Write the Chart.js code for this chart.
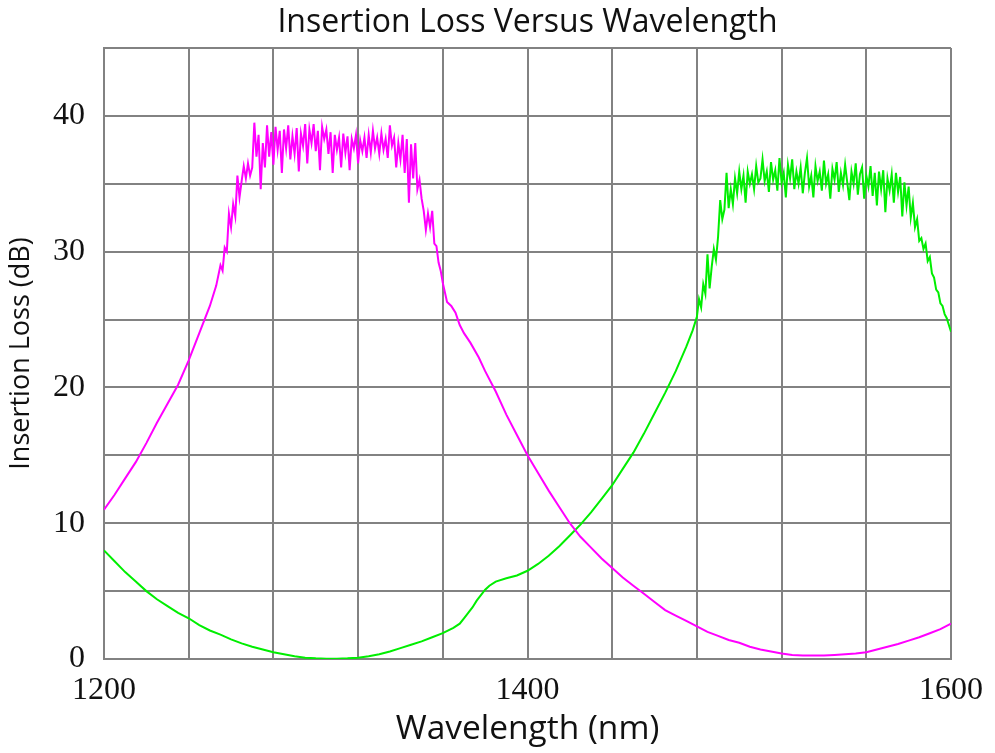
<!DOCTYPE html>
<html>
<head>
<meta charset="utf-8">
<title>Insertion Loss Versus Wavelength</title>
<script src="https://cdn.jsdelivr.net/npm/chart.js@4.4.1/dist/chart.umd.min.js"></script>
<style>
  body { margin: 0; background: #fff; }
  #lossCanvas { display: block; }
</style>
</head>
<body>
<canvas id="lossCanvas" width="995" height="753"></canvas>
<script>
// Longitudes de onda (nm) y pérdidas (dB)
var magentaWavelength = [
  1200, 1205, 1210, 1215, 1220, 1225, 1230, 1235, 1240, 1245, 1250, 1253, 1255, 1256, 1257,
  1258, 1259, 1260, 1261, 1262, 1263, 1264, 1265, 1266, 1267, 1268, 1269, 1270,
  1271, 1272, 1273, 1274, 1275, 1276, 1277, 1278, 1279, 1280,
  1281, 1282, 1283, 1284, 1285, 1286, 1287, 1288, 1289, 1290,
  1291, 1292, 1293, 1294, 1295, 1296, 1297, 1298, 1299, 1300,
  1301, 1302, 1303, 1304, 1305, 1306, 1307, 1308, 1309, 1310,
  1311, 1312, 1313, 1314, 1315, 1316, 1317, 1318, 1319, 1320,
  1321, 1322, 1323, 1324, 1325, 1326, 1327, 1328, 1329, 1330,
  1331, 1332, 1333, 1334, 1335, 1336, 1337, 1338, 1339, 1340,
  1341, 1342, 1343, 1344, 1345, 1346, 1347, 1348, 1349, 1350,
  1351, 1352, 1353, 1354, 1355, 1356, 1357, 1358, 1359, 1360,
  1362, 1364, 1366, 1368, 1370, 1373, 1377, 1380, 1385, 1390, 1395, 1400,
  1405, 1410, 1415, 1420, 1425, 1430, 1435, 1440, 1445, 1450, 1455, 1460,
  1465, 1470, 1475, 1480, 1485, 1490, 1495, 1500, 1505, 1510, 1515, 1520,
  1525, 1530, 1535, 1540, 1545, 1550, 1555, 1560, 1565, 1570, 1575, 1580,
  1585, 1590, 1595, 1600
];
var magentaLoss = [
  11.0, 12.1, 13.3, 14.5, 15.9, 17.4, 18.8, 20.2, 22.0, 24.0, 26.0, 27.5, 29.0, 28.6, 30.3,
  30.0, 32.8, 31.8, 33.5, 32.6, 35.6, 34.0, 35.2, 36.3, 35.4, 36.5, 35.6, 36.2,
  39.5, 37.0, 38.6, 34.6, 38.0, 36.2, 39.3, 37.0, 38.8, 36.4,
  39.2, 37.5, 38.9, 35.8, 39.0, 37.6, 39.3, 36.8, 38.5, 37.2,
  39.1, 35.9, 38.7, 37.8, 39.4, 36.5, 39.0, 38.0, 39.4, 37.4,
  38.9, 36.0, 39.2, 38.3, 39.0, 37.2, 38.8, 35.8, 38.6, 37.5,
  38.4, 36.2, 38.7, 37.3, 38.5, 36.0, 38.3, 37.6, 38.6, 36.5,
  38.2, 37.4, 38.4, 36.9, 38.6, 37.3, 38.9, 37.6, 38.4, 37.2,
  38.7, 37.5, 38.3, 36.9, 39.3, 37.8, 38.4, 36.2, 38.0, 36.8,
  38.6, 35.8, 38.3, 33.6, 37.9, 35.4, 38.0, 34.6, 35.3, 33.9,
  33.0, 31.6, 32.8, 31.8, 33.0, 30.6, 30.4, 29.2, 28.6, 27.7,
  26.3, 26.0, 25.5, 24.6, 24.0, 23.3, 22.2, 21.2, 19.7, 18.0, 16.5, 15.0,
  13.7, 12.4, 11.2, 10.0, 9.0, 8.2, 7.4, 6.7, 6.0, 5.4, 4.8, 4.2,
  3.6, 3.2, 2.8, 2.4, 2.0, 1.7, 1.4, 1.2, 0.9, 0.7, 0.55, 0.4,
  0.3, 0.25, 0.25, 0.25, 0.3, 0.35, 0.4, 0.5, 0.7, 0.9, 1.1, 1.35,
  1.6, 1.9, 2.2, 2.6
];

var greenWavelength = [
  1200, 1205, 1210, 1215, 1220, 1225, 1230, 1235, 1240, 1245, 1250, 1255,
  1260, 1265, 1270, 1275, 1280, 1285, 1290, 1295, 1300, 1305, 1310, 1315,
  1320, 1325, 1330, 1335, 1340, 1345, 1350, 1355, 1360, 1365, 1368, 1370,
  1372, 1374, 1376, 1378, 1380, 1382, 1385, 1390, 1395, 1400, 1405, 1410,
  1415, 1420, 1425, 1430, 1435, 1440, 1445, 1450, 1455, 1460, 1465, 1470,
  1475, 1478, 1480,
  1481, 1482, 1483, 1484, 1485, 1486, 1487, 1488, 1489, 1490,
  1491, 1492, 1493, 1494, 1495, 1496, 1497, 1498, 1499, 1500,
  1501, 1502, 1503, 1504, 1505, 1506, 1507, 1508, 1509, 1510,
  1511, 1512, 1513, 1514, 1515, 1516, 1517, 1518, 1519, 1520,
  1521, 1522, 1523, 1524, 1525, 1526, 1527, 1528, 1529, 1530,
  1531, 1532, 1533, 1534, 1535, 1536, 1537, 1538, 1539, 1540,
  1541, 1542, 1543, 1544, 1545, 1546, 1547, 1548, 1549, 1550,
  1551, 1552, 1553, 1554, 1555, 1556, 1557, 1558, 1559, 1560,
  1561, 1562, 1563, 1564, 1565, 1566, 1567, 1568, 1569, 1570,
  1571, 1572, 1573, 1574, 1575, 1576, 1577, 1578, 1579, 1580,
  1581, 1582, 1583, 1584, 1585, 1586, 1587, 1588, 1589, 1590,
  1591, 1592, 1593, 1594, 1595, 1596, 1597, 1598, 1599, 1600
];
var greenLoss = [
  8.0, 7.2, 6.4, 5.7, 5.0, 4.4, 3.9, 3.4, 3.0, 2.5, 2.1, 1.8,
  1.45, 1.15, 0.9, 0.7, 0.5, 0.35, 0.2, 0.1, 0.05, 0.02, 0.02, 0.05,
  0.1, 0.2, 0.35, 0.55, 0.8, 1.05, 1.3, 1.6, 1.9, 2.3, 2.6, 3.0,
  3.4, 3.8, 4.3, 4.7, 5.1, 5.4, 5.7, 5.95, 6.15, 6.5, 7.0, 7.6,
  8.3, 9.1, 9.9, 10.8, 11.8, 12.8, 14.0, 15.2, 16.6, 18.1, 19.6, 21.2,
  23.0, 24.2, 25.2,
  26.5, 25.9, 27.6, 26.9, 29.8, 27.3, 28.9, 30.2, 29.4, 31.1,
  33.8, 32.4, 33.1, 35.8, 33.2, 34.6, 33.5, 35.4, 34.3, 35.9,
  34.6, 35.6, 33.6, 35.9, 35.0, 35.7, 34.6, 36.3, 35.1, 35.4,
  36.8, 35.2, 35.9, 34.4, 36.6, 35.3, 36.0, 34.5, 36.9, 35.1,
  35.8, 34.0, 36.4, 35.4, 36.8, 34.6, 35.9, 35.0, 36.2, 34.3,
  35.8, 36.9, 34.8, 35.6, 34.0, 36.3, 35.2, 35.9, 34.5, 36.7,
  35.0, 35.7, 33.9, 36.1, 35.3, 36.6, 34.4, 35.8, 34.9, 36.4,
  35.1, 33.8, 35.9, 35.0, 36.5, 34.2, 35.7, 36.2, 33.9, 35.6,
  34.8, 36.3, 34.1, 35.8, 33.4, 35.9, 34.6, 36.0, 32.9, 35.4,
  34.5, 35.7, 33.6, 35.8, 34.4, 35.5, 32.6, 35.1, 33.4, 34.8,
  32.5, 33.6, 31.8, 32.4, 30.8, 31.0, 30.2, 30.6, 29.3, 29.6,
  28.4, 28.1, 27.2, 27.0, 26.2, 26.0, 25.4, 25.1, 24.6, 24.1
];

// Etiquetas de los ejes
var xTickLabels = [1200, 1400, 1600];
var yTickLabels = [0, 10, 20, 30, 40];

function toPoints(xs, ys) {
  return xs.map(function (x, i) {
    return { x: x, y: ys[i] };
  });
}

var gridColor = "#828282";
var sansFont = "'Open Sans', 'DejaVu Sans', sans-serif";
var serifFont = "'Liberation Serif', 'DejaVu Serif', serif";

var lossCanvas = document.getElementById("lossCanvas").getContext("2d");

var lossChart = new Chart(lossCanvas, {
  type: "line",
  data: {
    datasets: [
      {
        label: "Magenta",
        data: toPoints(magentaWavelength, magentaLoss),
        borderColor: "#ff00ff",
        borderWidth: 2,
        pointRadius: 0,
        tension: 0,
      },
      {
        label: "Green",
        data: toPoints(greenWavelength, greenLoss),
        borderColor: "#00ee00",
        borderWidth: 2,
        pointRadius: 0,
        tension: 0,
      },
    ],
  },
  options: {
    responsive: false,
    animation: false,
    layout: { padding: { left: 0, right: 43, top: 0, bottom: 0 } },
    plugins: {
      legend: { display: false },
      tooltip: { enabled: false },
      title: {
        display: true,
        text: "Insertion Loss Versus Wavelength",
        fullSize: false,
        color: "#111",
        font: { family: sansFont, size: 32, weight: "normal", lineHeight: 1.2 },
        padding: { top: 4, bottom: 5.6 },
      },
    },
    scales: {
      x: {
        type: "linear",
        min: 1200,
        max: 1600,
        afterFit: function (scale) {
          scale.height = 94;
        },
        ticks: {
          stepSize: 40,
          autoSkip: false,
          maxRotation: 0,
          padding: 12,
          color: "#111",
          font: { family: serifFont, size: 32 },
          callback: function (value) {
            return xTickLabels.indexOf(value) >= 0 ? value : "";
          },
        },
        grid: { color: gridColor, lineWidth: 2, drawTicks: false },
        border: { color: gridColor, width: 2 },
        title: {
          display: true,
          text: "Wavelength (nm)",
          color: "#111",
          font: { family: sansFont, size: 33.5, lineHeight: 1.2 },
          padding: { top: 0, bottom: 3 },
        },
      },
      y: {
        min: 0,
        max: 45,
        afterFit: function (scale) {
          scale.width = 104;
        },
        ticks: {
          stepSize: 5,
          autoSkip: false,
          padding: 19,
          color: "#111",
          font: { family: serifFont, size: 32 },
          callback: function (value) {
            return yTickLabels.indexOf(value) >= 0 ? value : "";
          },
        },
        grid: { color: gridColor, lineWidth: 2, drawTicks: false },
        border: { color: gridColor, width: 2 },
        title: {
          display: true,
          text: "Insertion Loss (dB)",
          color: "#111",
          font: { family: sansFont, size: 27, lineHeight: 1.2 },
          padding: { top: 5, bottom: 0 },
        },
      },
    },
  },
});
</script>
</body>
</html>
